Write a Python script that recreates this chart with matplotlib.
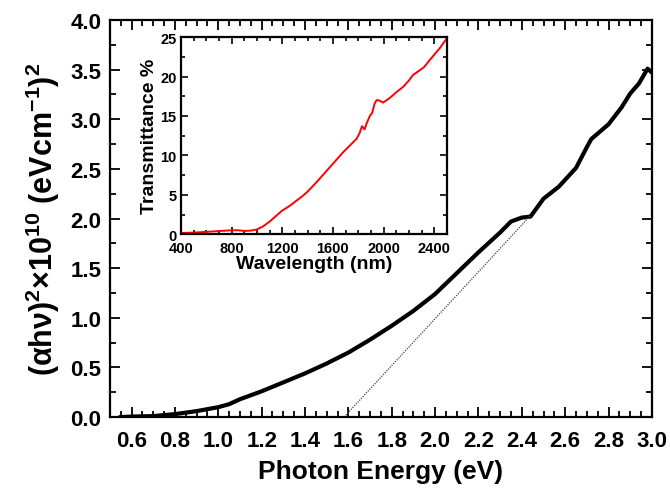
import numpy as np
import matplotlib.pyplot as plt
from matplotlib.ticker import MultipleLocator, FormatStrFormatter

# =========================
# Data
# =========================

energy = [0.55, 0.6, 0.7, 0.8, 0.9, 1.0, 1.05, 1.1, 1.2, 1.3, 1.4, 1.5, 1.6,
          1.7, 1.8, 1.9, 2.0, 2.1, 2.2, 2.3, 2.35, 2.4, 2.44, 2.5, 2.57,
          2.65, 2.7, 2.72, 2.8, 2.86, 2.9, 2.94, 2.98, 3.0]
alpha_hv2 = [0.0, 0.005, 0.01, 0.03, 0.06, 0.1, 0.13, 0.18, 0.26, 0.35,
             0.44, 0.54, 0.65, 0.78, 0.92, 1.07, 1.24, 1.45, 1.66, 1.86,
             1.97, 2.01, 2.02, 2.2, 2.32, 2.51, 2.72, 2.8, 2.95, 3.12,
             3.26, 3.36, 3.51, 3.47]

# tangent (band gap extrapolation)
fit_x = [1.58, 2.44]
fit_y = [0.0, 2.03]

wavelength = [400, 500, 600, 700, 800, 850, 900, 950, 1000, 1050, 1100,
              1150, 1200, 1260, 1300, 1365, 1400, 1471, 1576, 1681, 1787,
              1810, 1830, 1850, 1870, 1892, 1910, 1930, 1945, 1960, 1997,
              2050, 2100, 2155, 2200, 2233, 2286, 2320, 2365, 2444, 2497]
transmittance = [0.15, 0.2, 0.3, 0.4, 0.5, 0.5, 0.42, 0.45, 0.6, 1.0, 1.6,
                 2.3, 3.0, 3.6, 4.1, 4.9, 5.4, 6.6, 8.5, 10.4, 12.1, 12.8,
                 13.7, 13.3, 14.2, 15.0, 15.4, 16.6, 17.0, 17.0, 16.7, 17.3,
                 18.0, 18.7, 19.5, 20.2, 20.8, 21.2, 22.1, 23.6, 24.8]

plt.rcParams['font.family'] = ['Liberation Sans', 'DejaVu Sans']
plt.rcParams['font.weight'] = 'bold'
plt.rcParams['mathtext.fontset'] = 'custom'
plt.rcParams['mathtext.rm'] = 'Liberation Sans:bold'
plt.rcParams['mathtext.it'] = 'Liberation Sans:bold'
plt.rcParams['mathtext.bf'] = 'Liberation Sans:bold'

fig = plt.figure(figsize=(6.70, 4.89), dpi=100)

# =========================
# Main plot
# =========================

ax = fig.add_axes([0.164, 0.145, 0.809, 0.812])
ax.plot(energy, alpha_hv2, color='black', lw=3.0)
ax.plot(fit_x, fit_y, color='#444444', lw=0.9, ls=(0, (1, 1)))

ax.set_xlim(0.5, 3.0)
ax.set_ylim(0, 4.0)
ax.xaxis.set_major_locator(MultipleLocator(0.2))
ax.xaxis.set_minor_locator(MultipleLocator(0.05))
ax.yaxis.set_major_locator(MultipleLocator(0.5))
ax.yaxis.set_minor_locator(MultipleLocator(0.25))
ax.xaxis.set_major_formatter(FormatStrFormatter('%.1f'))
ax.yaxis.set_major_formatter(FormatStrFormatter('%.1f'))
ax.tick_params(which='both', direction='in', top=True, right=True,
               labelsize=16, width=1.3)
ax.tick_params(axis='x', pad=9)
ax.tick_params(axis='y', pad=6)
ax.tick_params(which='major', length=7)
ax.tick_params(which='minor', length=4)
for s in ax.spines.values():
    s.set_linewidth(1.6)

ax.set_xlabel('Photon Energy (eV)', fontsize=19, fontweight='bold', labelpad=6)
ax.set_ylabel(r'$(\alpha h\nu)^2$$\times$$10^{10}$ (eVcm$^{-1}$)$^2$',
              fontsize=22, fontweight='bold', labelpad=6)

# =========================
# Inset
# =========================

ins = fig.add_axes([0.270, 0.519, 0.397, 0.403])
ins.plot(wavelength, transmittance, color='red', lw=1.4)
ins.set_xlim(400, 2500)
ins.set_ylim(0, 25)
ins.xaxis.set_major_locator(MultipleLocator(400))
ins.xaxis.set_minor_locator(MultipleLocator(100))
ins.yaxis.set_major_locator(MultipleLocator(5))
ins.yaxis.set_minor_locator(MultipleLocator(2.5))
ins.tick_params(which='both', direction='in', top=True, right=True,
                labelsize=10.5, width=1.2)
ins.tick_params(axis='x', pad=5)
ins.tick_params(axis='y', pad=3)
ins.tick_params(which='major', length=5)
ins.tick_params(which='minor', length=3)
for s in ins.spines.values():
    s.set_linewidth(1.6)
ins.set_xlabel('Wavelength (nm)', fontsize=14, fontweight='bold', labelpad=0)
ins.set_ylabel('Transmittance %', fontsize=14, fontweight='bold', labelpad=2)

fig.savefig('out.png', dpi=100)
